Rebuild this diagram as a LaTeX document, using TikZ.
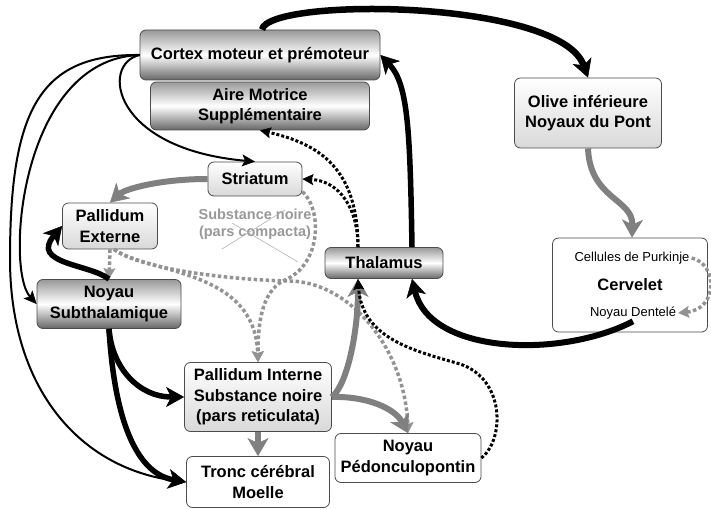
\documentclass[tikz,border=0pt]{standalone}
\usepackage{fontspec}
\setmainfont{Liberation Sans}
\usetikzlibrary{arrows.meta}

\begin{document}
\begin{tikzpicture}[x=1pt, y=1pt,
    box node/.style={draw=black!70, line width=0.8pt, rounded corners=6pt, align=center, inner sep=0pt, font=\bfseries\fontsize{16.5}{20.5}\selectfont},
    dark node/.style={box node, top color=black!40, bottom color=black!60, middle color=white},
    light node/.style={box node, top color=white, bottom color=black!15},
    plain node/.style={box node, fill=white},
    small text/.style={font=\fontsize{13}{15}\selectfont, inner sep=2pt},
    thick edge/.style={line width=5.5pt, -{Stealth[length=18pt, width=20pt, inset=5pt, line width=0.5pt]}},
    thin edge/.style={line width=2pt, -{Stealth[length=13pt, width=12pt, inset=3pt, line width=0.5pt]}},
    gray edge/.style={gray, line width=6pt, -{Stealth[length=18pt, width=21pt, inset=5pt, line width=0.5pt]}},
    gray dots/.style={gray!85, line width=3.5pt, dash pattern=on 3.5pt off 2.5pt, -{Stealth[length=11pt, width=12pt, inset=2pt, line width=0.5pt]}},
    black dots/.style={black, line width=3pt, dash pattern=on 3pt off 2pt, -{Stealth[length=11pt, width=11pt, inset=2pt, line width=0.5pt]}}]

    \useasboundingbox (0,0) rectangle (711,509);

    \node[dark node, minimum width=240pt, minimum height=50pt] at (260,454) (cortex) {Cortex moteur et prémoteur};
    \node[dark node, minimum width=219pt, minimum height=48pt] at (260,403) (ams) {Aire Motrice\\Supplémentaire};
    \node[light node, minimum width=147pt, minimum height=70pt] at (588,396) (olive) {Olive inférieure\\Noyaux du Pont};
    \node[light node, minimum width=94pt, minimum height=34pt] at (255,330) (striatum) {Striatum};
    \node[light node, minimum width=95pt, minimum height=46pt] at (110,283) (pe) {Pallidum\\Externe};
    \node[text=gray!80, align=center, font=\bfseries\fontsize{14.5}{17}\selectfont] at (255,285) (snc) {Substance noire\\(pars compacta)};
    \node[dark node, minimum width=118pt, minimum height=31pt] at (384,246) (thalamus) {Thalamus};
    \node[plain node, minimum width=155pt, minimum height=94pt] at (630,224) (cervelet) {Cervelet};
    \node[small text] at (632,251) (purk) {Cellules de Purkinje};
    \node[small text] at (633,196) (dent) {Noyau Dentelé};
    \node[dark node, minimum width=144pt, minimum height=49pt] at (109,205) (nst) {Noyau\\Subthalamique};
    \node[light node, minimum width=147pt, minimum height=69pt] at (258,112) (pi) {Pallidum Interne\\Substance noire\\(pars reticulata)};
    \node[plain node, minimum width=146pt, minimum height=49pt] at (408,51) (npp) {Noyau\\Pédonculopontin};
    \node[plain node, minimum width=143pt, minimum height=51pt] at (258,27) (tronc) {Tronc cérébral\\Moelle};

    % pars compacta barree
    \draw[gray!60, line width=0.6pt] (222,260) -- (285,299) (232,286) -- (298,247);

    % cortex
    \draw[thick edge, line width=6.5pt] ([xshift=2pt]cortex.north) .. controls (268,512) and (560,510) .. (olive.north);
    \draw[thin edge] (cortex.west) .. controls (100,445) and (112,360) .. (striatum.north);
    \draw[thin edge] (cortex.west) .. controls (20,450) and (5,240) .. (nst.west);
    \draw[thin edge] (cortex.west) .. controls (40,455) and (10,400) .. (10,250) .. controls (10,120) and (80,40) .. (tronc.west);

    % boucle cerebelleuse
    \draw[gray edge] (olive.south) .. controls (590,310) and (633,310) .. ([xshift=2pt]cervelet.north);
    \draw[gray dots] (purk.east) .. controls (718,245) and (718,200) .. (dent.east);
    \draw[thick edge, line width=6pt] (dent.south) .. controls (560,150) and (430,155) .. ([xshift=28pt]thalamus.south);
    \draw[thick edge] ([xshift=28pt]thalamus.north) .. controls (410,380) and (408,425) .. (cortex.east);

    % ganglions de la base
    \draw[gray edge] (striatum.west) .. controls (160,330) and (125,320) .. (pe.north);
    \path (pe.south) edge[gray dots] (nst.north);
    \draw[thick edge] (nst.north) .. controls (90,245) and (30,245) .. (pe.west);
    \draw[thick edge] (nst.south) .. controls (112,140) and (140,112) .. (pi.west);
    \draw[thick edge] (nst.south) .. controls (115,80) and (140,35) .. (tronc.west);
    \draw[gray dots] (striatum.-15) .. controls (322,300) and (322,245) .. (285,229) .. controls (260,218) and (258,180) .. (pi.north);
    \draw[gray dots] ([xshift=4pt]pe.south) .. controls (150,235) and (255,240) .. (pi.north);
    \draw[gray dots] ([xshift=4pt]pe.south) .. controls (140,240) and (230,229) .. (290,228) .. controls (350,227) and (405,160) .. (npp.north);

    % sorties du pallidum interne
    \path (pi.south) edge[gray edge] (tronc.north);
    \draw[gray edge] (pi.east) .. controls (348,125) and (358,180) .. ([xshift=-26pt]thalamus.south);
    \draw[gray edge] (pi.east) .. controls (368,113) and (395,100) .. (npp.north);

    % thalamus
    \draw[black dots] ([xshift=-26pt]thalamus.north) .. controls (358,300) and (340,328) .. (striatum.east);
    \draw[black dots] ([xshift=-26pt]thalamus.north) .. controls (358,340) and (320,365) .. (ams.south);
    \draw[black dots] (npp.east) .. controls (505,70) and (505,130) .. (460,145) .. controls (415,158) and (362,170) .. ([xshift=-26pt]thalamus.south);

\end{tikzpicture}
\end{document}
